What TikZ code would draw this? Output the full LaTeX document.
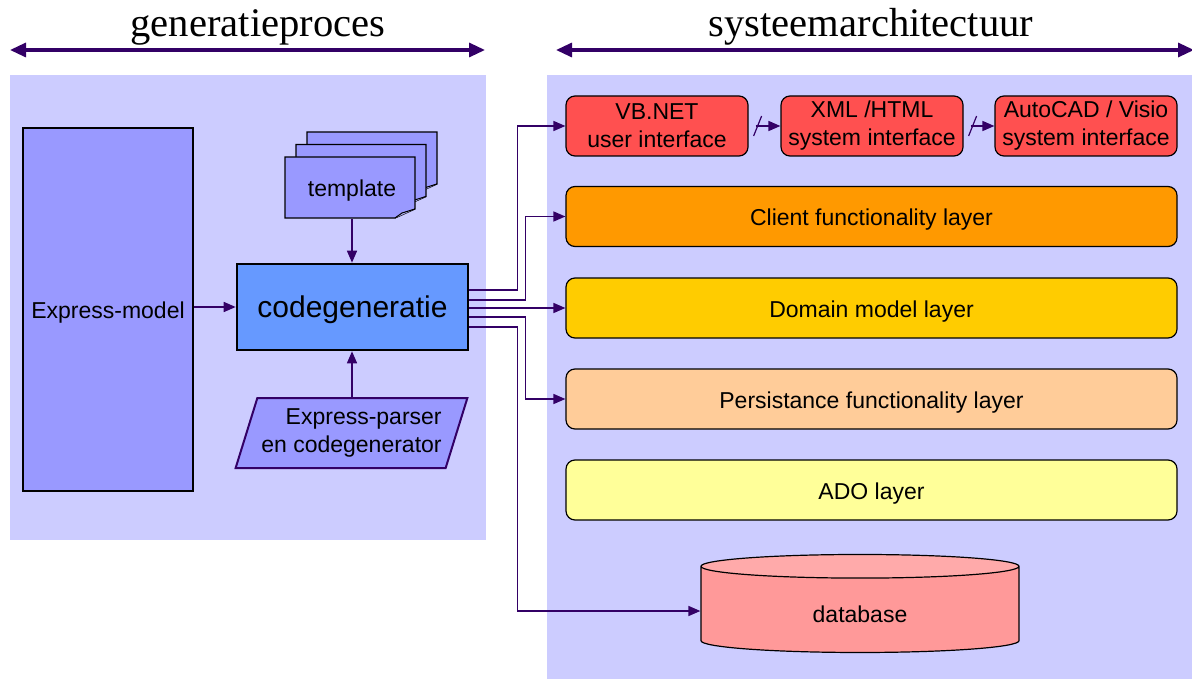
\documentclass[tikz,border=0pt]{standalone}
\usepackage{fontspec}
\setmainfont{Liberation Serif}
\setsansfont{Liberation Sans}
\usetikzlibrary{arrows.meta,shapes.geometric}

\definecolor{panelc}{HTML}{CCCCFF}
\definecolor{lilac}{HTML}{9999FF}
\definecolor{codec}{HTML}{6699FF}
\definecolor{uic}{HTML}{FF5050}
\definecolor{clientc}{HTML}{FF9900}
\definecolor{domainc}{HTML}{FFCC00}
\definecolor{persistc}{HTML}{FFCC99}
\definecolor{adoc}{HTML}{FFFF99}
\definecolor{dbc}{HTML}{FF9999}
\definecolor{dbtopc}{HTML}{FFAAAA}
\definecolor{linec}{HTML}{330066}

\begin{document}
\begin{tikzpicture}[x=0.5pt,y=-0.5pt]

    \tikzset{box/.style = {draw=black, line width=1.3pt, inner sep=2pt, align=center,
                           execute at begin node={\rule{0pt}{11.5pt}},
                           font=\sffamily\fontsize{11.5}{14}\selectfont}}
    \tikzset{layer/.style = {draw=black, line width=0.6pt, rounded corners=4.5pt, inner sep=2pt,
                             align=center, font=\sffamily\fontsize{11.5}{14}\selectfont,
                             execute at begin node={\rule{0pt}{11.5pt}},
                             minimum width=305.5pt, minimum height=30pt}}
    \tikzset{iface/.style = {layer, fill=uic, minimum width=91pt,
                             execute at begin node={\rule{0pt}{12.5pt}}}}
    \tikzset{conn/.style = {draw=linec, line width=0.75pt, -{Triangle[length=6pt,width=5pt]}}}
    \tikzset{span/.style = {draw=linec, line width=1.6pt,
                            {Triangle[length=8pt,width=7pt]}-{Triangle[length=8pt,width=7pt]}}}
    \tikzset{title/.style = {font=\fontsize{20.3}{24}\selectfont, anchor=base}}

    \useasboundingbox (0,0) rectangle (1192,679);

    % panels
    \fill[panelc] (10,75) rectangle (486,540);
    \fill[panelc] (547,75) rectangle (1192,679);

    % titles
    \node[title] (gen) at (258,37) {generatieproces};
    \node[title] (arch) at (871,37) {systeemarchitectuur};
    \coordinate (genL) at (10,50);
    \coordinate (genR) at (485,50);
    \coordinate (archL) at (556,50);
    \coordinate (archR) at (1194,50);
    \draw[span] (genL) -- (genR);
    \draw[span] (archL) -- (archR);

    % generation process
    \node[box, fill=lilac, minimum width=85pt, minimum height=181.5pt] (model) at (108,309.5) {Express-model};
    \node[box, fill=codec, minimum width=115.5pt, minimum height=43pt,
          execute at begin node={\rule{0pt}{14pt}},
          font=\sffamily\fontsize{15}{18}\selectfont] (code) at (352.5,307) {codegeneratie};

    \foreach \d in {2,1,0}{
        \begin{scope}[shift={(11*\d,-12.5*\d)}]
            \draw[fill=lilac, line width=0.6pt] (285,157) -- (415,157) -- (415,209) -- (395,218) -- (285,218) -- cycle;
            \draw[fill=lilac!70, line width=0.5pt] (415,209) -- (402,213) -- (395,218);
        \end{scope}
    }
    \node[box, draw=none, minimum width=65pt, minimum height=30.5pt] (tpl) at (352,187.5) {template};

    \node[box, draw=linec, line width=1pt, fill=lilac, trapezium, trapezium left angle=69,
          trapezium right angle=111, trapezium stretches=true, align=right,
          minimum width=115.5pt, minimum height=35pt] (parser) at (351.5,433)
          {Express-parser\\en codegenerator};

    \draw[conn] (model.east |- code.west) -- (code.west);
    \draw[conn] (tpl.south) -- (tpl.south |- code.north);
    \draw[conn] (parser.north -| tpl.south) -- (tpl.south |- code.south);

    % system architecture
    \node[iface] (vb) at (657,126) {VB.NET\\user interface};
    \node[iface] (xml) at (872,126) {XML /HTML\\system interface};
    \node[iface] (cad) at (1086,126) {AutoCAD / Visio\\system interface};
    \node[layer, fill=clientc] (client) at (871.5,216.5) {Client functionality layer};
    \node[layer, fill=domainc] (domain) at (871.5,308) {Domain model layer};
    \node[layer, fill=persistc] (persist) at (871.5,399) {Persistance functionality layer};
    \node[layer, fill=adoc] (ado) at (871.5,490) {ADO layer};
    \node[box, line width=0.6pt, cylinder, shape border rotate=90, aspect=0.23,
          cylinder uses custom fill, cylinder body fill=dbc, cylinder end fill=dbtopc,
          minimum width=159pt, minimum height=49pt] (db) at (860,611) {database};

    \draw[conn, shorten <=3.5pt] (vb.east) -- (xml.west);
    \draw[conn, shorten <=3.5pt] (xml.east) -- (cad.west);
    \draw[draw=linec, line width=0.6pt] ([xshift=2.5pt,yshift=-5pt]vb.east) -- ++(4pt,10pt);
    \draw[draw=linec, line width=0.6pt] ([xshift=2.5pt,yshift=-5pt]xml.east) -- ++(4pt,10pt);

    % generated code goes to the layers
    \draw[conn] ([yshift=8.5pt]code.east) -- ++(24pt,0) |- (vb.west);
    \draw[conn] ([yshift=3.5pt]code.east) -- ++(28pt,0) |- (client.west);
    \draw[conn] (code.east |- domain.west) -- (domain.west);
    \draw[conn] ([yshift=-5pt]code.east) -- ++(28pt,0) |- (persist.west);
    \draw[conn] ([yshift=-10pt]code.east) -- ++(24pt,0) |- (db.west);

\end{tikzpicture}
\end{document}
